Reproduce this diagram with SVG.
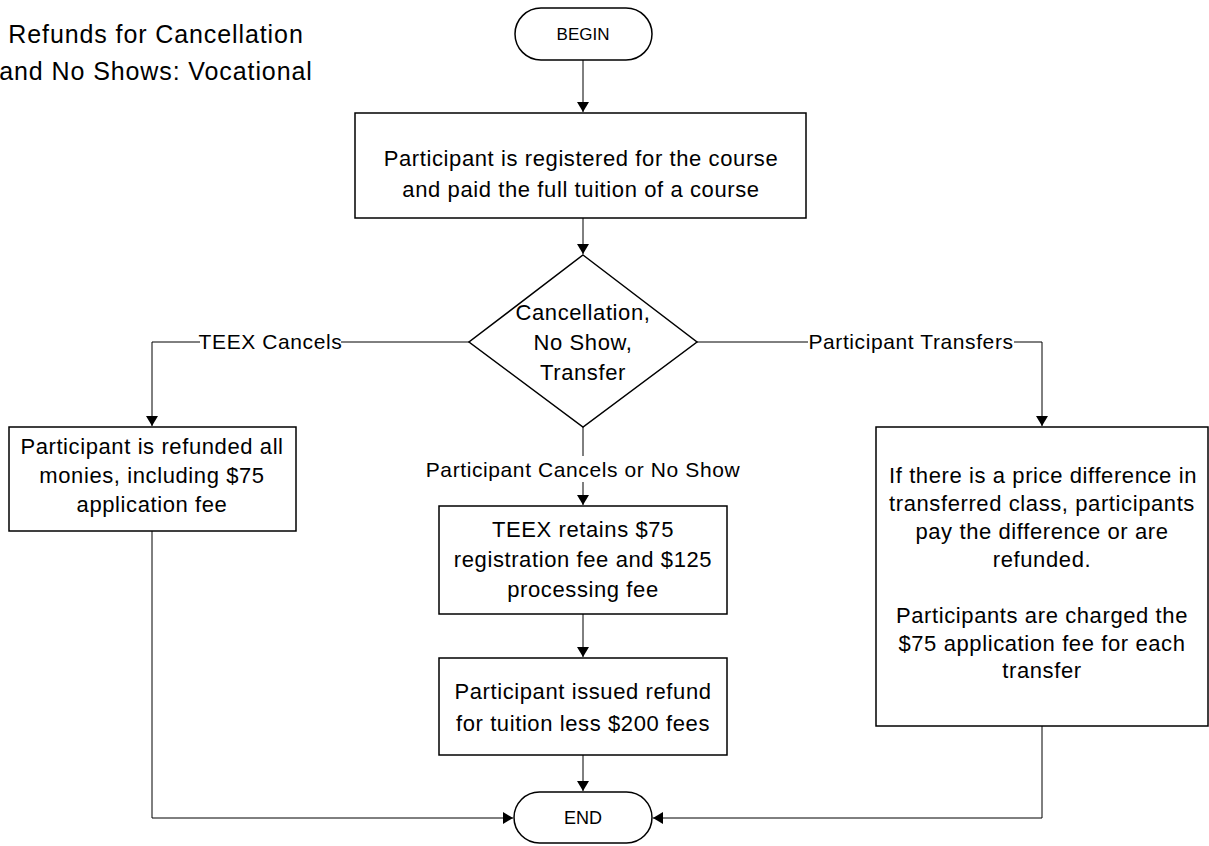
<svg xmlns="http://www.w3.org/2000/svg" width="1209" height="846" viewBox="0 0 1209 846">
<defs>
<marker id="arr" markerWidth="10" markerHeight="12" refX="10" refY="6" orient="auto" markerUnits="userSpaceOnUse">
<path d="M0,0 L10,6 L0,12 Z" fill="#000"/>
</marker>
<style>
.s{fill:#fff;stroke:#000;stroke-width:1.5}
.t{font-family:"Liberation Sans",Arial,sans-serif;font-size:22px;letter-spacing:0.6px;fill:#000;text-anchor:middle}
.c{fill:none;stroke:#000;stroke-width:1}
.lb{font-family:"Liberation Sans",Arial,sans-serif;font-size:21px;letter-spacing:0.6px;fill:#000;text-anchor:middle}
</style>
</defs>
<rect width="1209" height="846" fill="#fff"/>
<g id="title">
<text class="t" x="156" y="43" style="font-size:25px;letter-spacing:0.9px">Refunds for Cancellation</text>
<text class="t" x="156" y="80" style="font-size:25px;letter-spacing:0.9px">and No Shows: Vocational</text>
</g>
<g id="connectors">
<path class="c" d="M583,60 V112" marker-end="url(#arr)"/>
<path class="c" d="M583,218 V254" marker-end="url(#arr)"/>
<path class="c" d="M469,342 H152 V426" marker-end="url(#arr)"/>
<path class="c" d="M697,342 H1042 V426" marker-end="url(#arr)"/>
<path class="c" d="M583,427 V505" marker-end="url(#arr)"/>
<path class="c" d="M583,614 V657" marker-end="url(#arr)"/>
<path class="c" d="M583,755 V791" marker-end="url(#arr)"/>
<path class="c" d="M152,531 V818 H513" marker-end="url(#arr)"/>
<path class="c" d="M1042,726 V818 H653" marker-end="url(#arr)"/>
<rect x="200" y="330" width="141" height="24" fill="#fff"/>
<text class="lb" x="270.5" y="349">TEEX Cancels</text>
<rect x="808" y="330" width="206" height="24" fill="#fff"/>
<text class="lb" x="911" y="349">Participant Transfers</text>
<rect x="421" y="456" width="325" height="26" fill="#fff"/>
<text class="lb" x="583" y="477">Participant Cancels or No Show</text>
</g>
<g id="begin">
<rect class="s" x="515" y="8" width="137" height="52" rx="26"/>
<text class="t" x="583" y="40" style="font-size:17px;letter-spacing:0">BEGIN</text>
</g>
<g id="registered">
<rect class="s" x="355" y="113" width="451" height="105"/>
<text class="t" x="581" y="166">Participant is registered for the course</text>
<text class="t" x="581" y="197">and paid the full tuition of a course</text>
</g>
<g id="decision">
<polygon class="s" points="583,255 697,342 583,427 469,342"/>
<text class="t" x="583" y="320">Cancellation,</text>
<text class="t" x="583" y="350">No Show,</text>
<text class="t" x="583" y="380">Transfer</text>
</g>
<g id="teex-cancels-box">
<rect class="s" x="9" y="427" width="287" height="104"/>
<text class="t" x="152" y="454">Participant is refunded all</text>
<text class="t" x="152" y="483">monies, including $75</text>
<text class="t" x="152" y="512">application fee</text>
</g>
<g id="retains">
<rect class="s" x="439" y="506" width="288" height="108"/>
<text class="t" x="583" y="537">TEEX retains $75</text>
<text class="t" x="583" y="567">registration fee and $125</text>
<text class="t" x="583" y="597">processing fee</text>
</g>
<g id="issued">
<rect class="s" x="439" y="658" width="288" height="97"/>
<text class="t" x="583" y="699">Participant issued refund</text>
<text class="t" x="583" y="731">for tuition less $200 fees</text>
</g>
<g id="transfer-box">
<rect class="s" x="876" y="427" width="332" height="299"/>
<text class="t" x="1043" y="483">If there is a price difference in</text>
<text class="t" x="1042" y="511">transferred class, participants</text>
<text class="t" x="1042" y="539">pay the difference or are</text>
<text class="t" x="1042" y="567">refunded.</text>
<text class="t" x="1042" y="623">Participants are charged the</text>
<text class="t" x="1042" y="651">$75 application fee for each</text>
<text class="t" x="1042" y="678">transfer</text>
</g>
<g id="end">
<rect class="s" x="514" y="792" width="138" height="51" rx="25.5"/>
<text class="t" x="583" y="824" style="font-size:18px;letter-spacing:0">END</text>
</g>
</svg>
